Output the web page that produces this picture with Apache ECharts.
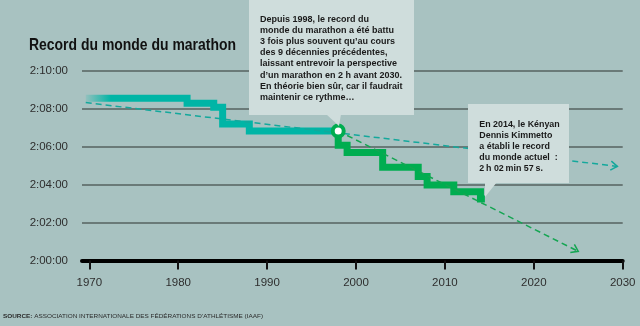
<!DOCTYPE html>
<html>
<head>
<meta charset="utf-8">
<script src="https://cdn.jsdelivr.net/npm/echarts@6/dist/echarts.min.js"></script>
<style>
html,body{margin:0;padding:0;background:#a8c2c1;}
#c{width:640px;height:326px;}
</style>
</head>
<body>
<div id="c"></div>
<script>
// Record progression (years, time in seconds)
const tealYears = [1969.6, 1981, 1984, 1985, 1988, 1998];
const tealTimes = [7713.6, 7698, 7685, 7632, 7610, 7610];
const greenYears = [1998, 1998, 1999, 2003, 2007, 2008, 2011, 2014, 2014.5];
const greenTimes = [7610, 7565, 7542, 7495, 7466, 7439, 7418, 7395, 7395];
// Trend lines (dashed, with arrow)
const trendTealYears = [1969.6, 2029.4];
const trendTealTimes = [7700, 7498];
const trendGreenYears = [1998, 2025];
const trendGreenTimes = [7610, 7229];
// Highlight point
const markerYear = 1998;
const markerTime = 7610;
// Axis ticks
const xTickYears = [1970, 1980, 1990, 2000, 2010, 2020, 2030];

const titleText = 'Record du monde du marathon';
const note1 = ['Depuis 1998, le record du', 'monde du marathon a été battu', '3 fois plus souvent qu\u2019au cours', 'des 9 décennies précédentes,', 'laissant entrevoir la perspective', 'd\u2019un marathon en 2 h avant 2030.', 'En théorie bien sûr, car il faudrait', 'maintenir ce rythme\u2026'];
const note2 = ['En 2014, le Kényan', 'Dennis Kimmetto', 'a établi le record', 'du monde actuel\u00a0 :', '2\u2009h 02\u2009min 57\u2009s.'];
const sourceLabel = 'SOURCE:';
const sourceText = ' ASSOCIATION INTERNATIONALE DES FÉDÉRATIONS D\u2019ATHLÉTISME (IAAF)';

const zip = (a, b) => a.map((v, i) => [v, b[i]]);
const TEAL = '#00b5a6', GREEN = '#00ad50';
const FAM = '"Liberation Sans", Arial, sans-serif';

const mctx = document.createElement('canvas').getContext('2d');
function tw(font, text) { mctx.font = font; return mctx.measureText(text).width; }

function fmt(v) {
  const h = Math.floor(v / 3600), m = Math.floor((v % 3600) / 60), s = Math.round(v % 60);
  return h + ':' + String(m).padStart(2, '0') + ':' + String(s).padStart(2, '0');
}

const titleFont = 'bold 16.5px ' + FAM;
const titleScale = 207 / tw(titleFont, titleText);
const noteFont = 'bold 9.5px ' + FAM;
const note1Scale = 137 / tw(noteFont, note1[4]);
const note2Scale = 73 / tw(noteFont, note2[1]);
const srcBold = 'bold 6px ' + FAM, srcReg = '6px ' + FAM;
const srcScale = 260 / (tw(srcBold, sourceLabel) + tw(srcReg, sourceText));

const chart = echarts.init(document.getElementById('c'), null, {renderer: 'canvas'});

function arrowItem(params, api) {
  const p1 = api.coord([api.value(0), api.value(1)]);
  const p2 = api.coord([api.value(2), api.value(3)]);
  const ang = Math.atan2(p2[1] - p1[1], p2[0] - p1[0]);
  const L = 8, spread = 0.6;
  const a = [p2[0] - L * Math.cos(ang - spread), p2[1] - L * Math.sin(ang - spread)];
  const b = [p2[0] - L * Math.cos(ang + spread), p2[1] - L * Math.sin(ang + spread)];
  return {
    type: 'polyline',
    shape: {points: [a, p2, b]},
    style: {stroke: api.value(4) === 0 ? '#14a89c' : '#14a552', lineWidth: 1.5, fill: null}
  };
}

chart.setOption({
  animation: false,
  backgroundColor: '#a8c2c1',
  grid: {left: 82, right: 17.3, top: 71, bottom: 65.5},
  xAxis: {
    type: 'value', min: 1969.18, max: 2030,
    axisLine: {show: true, lineStyle: {color: '#000', width: 4}},
    axisTick: {show: true, customValues: xTickYears, length: 9, lineStyle: {color: '#111', width: 2}},
    axisLabel: {customValues: xTickYears, formatter: v => String(v), margin: 16, fontFamily: FAM, fontSize: 11.5, color: '#2e2e2e'},
    splitLine: {show: false}
  },
  yAxis: {
    type: 'value', min: 7200, max: 7800, interval: 120,
    axisLine: {show: false}, axisTick: {show: false},
    axisLabel: {formatter: fmt, margin: 14, fontFamily: FAM, fontSize: 11.5, color: '#2e2e2e'},
    splitLine: {show: true, lineStyle: {color: '#56625f', width: 1.5}}
  },
  series: [
    {
      type: 'line', step: 'end', data: zip(tealYears, tealTimes), showSymbol: false, z: 3,
      lineStyle: {width: 7, join: 'miter', cap: 'butt', color: {
        type: 'linear', x: 0, y: 0, x2: 1, y2: 0,
        colorStops: [{offset: 0, color: 'rgba(0,181,166,0)'}, {offset: 0.11, color: TEAL}, {offset: 1, color: TEAL}]
      }}
    },
    {
      type: 'line', step: 'end', data: zip(greenYears, greenTimes), showSymbol: false, z: 3,
      lineStyle: {width: 7, join: 'miter', cap: 'butt', color: GREEN}
    },
    {
      type: 'line', data: zip(trendTealYears, trendTealTimes), showSymbol: false, z: 4,
      lineStyle: {width: 1.5, type: [6, 4], color: '#14a89c'}
    },
    {
      type: 'line', data: zip(trendGreenYears, trendGreenTimes), showSymbol: false, z: 4,
      lineStyle: {width: 1.5, type: [6, 4], color: '#14a552'}
    },
    {
      type: 'custom', z: 4, renderItem: arrowItem,
      data: [
        [trendTealYears[0], trendTealTimes[0], trendTealYears[1], trendTealTimes[1], 0],
        [trendGreenYears[0], trendGreenTimes[0], trendGreenYears[1], trendGreenTimes[1], 1]
      ]
    },
    {
      type: 'scatter', z: 5, data: [[markerYear, markerTime]], symbolSize: 11,
      itemStyle: {color: '#fff', borderColor: GREEN, borderWidth: 4, opacity: 1}
    }
  ],
  graphic: [
    {type: 'text', z: 101, x: 29, y: 45.7, scaleX: titleScale,
      style: {x: 0, y: 0, text: titleText, font: titleFont, fill: '#111', verticalAlign: 'middle'}},
    {type: 'rect', z: 100, shape: {x: 249, y: 0, width: 165, height: 115}, style: {fill: '#cfdddc'}},
    {type: 'polygon', z: 100, shape: {points: [[326, 114], [341, 114], [339, 126]]}, style: {fill: '#cfdddc'}},
    {type: 'text', z: 101, x: 260, y: 13.4, scaleX: note1Scale,
      style: {x: 0, y: 0, text: note1.join('\n'), font: noteFont, lineHeight: 11.2, fill: '#1a1a1a', verticalAlign: 'top'}},
    {type: 'rect', z: 100, shape: {x: 468, y: 104, width: 101, height: 79}, style: {fill: '#cfdddc'}},
    {type: 'polygon', z: 100, shape: {points: [[485, 182], [497, 182], [485, 197]]}, style: {fill: '#cfdddc'}},
    {type: 'text', z: 101, x: 479.3, y: 118.5, scaleX: note2Scale,
      style: {x: 0, y: 0, text: note2.join('\n'), font: noteFont, lineHeight: 11, fill: '#1a1a1a', verticalAlign: 'top'}},
    {type: 'text', z: 101, x: 3, y: 316, scaleX: srcScale,
      style: {x: 0, y: 0, verticalAlign: 'middle',
        text: '{b|' + sourceLabel + '}{r|' + sourceText + '}',
        rich: {b: {font: srcBold, fill: '#2a2a2a'}, r: {font: srcReg, fill: '#2a2a2a'}}}}
  ]
});
</script>
</body>
</html>
